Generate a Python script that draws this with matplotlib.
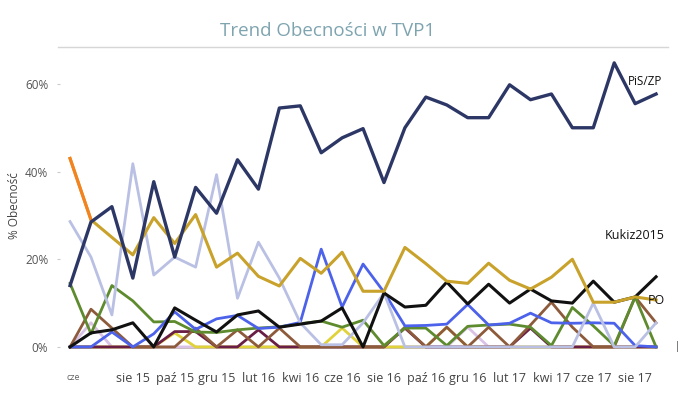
import matplotlib
matplotlib.use("Agg")
import matplotlib.pyplot as plt
from matplotlib.lines import Line2D

plt.rcParams['font.family'] = ['Open Sans', 'DejaVu Sans']

# ---- data (monthly, maj 2015 .. wrz 2017) ----
months = ["maj 15", "cze 15", "lip 15", "sie 15", "wrz 15", "paź 15", "lis 15", "gru 15",
          "sty 16", "lut 16", "mar 16", "kwi 16", "maj 16", "cze 16", "lip 16", "sie 16",
          "wrz 16", "paź 16", "lis 16", "gru 16", "sty 17", "lut 17", "mar 17", "kwi 17",
          "maj 17", "cze 17", "lip 17", "sie 17", "wrz 17"]
tick_idx = [3, 5, 7, 9, 11, 13, 15, 17, 19, 21, 23, 25, 27]
tick_labels = ["sie 15", "paź 15", "gru 15", "lut 16", "kwi 16", "cze 16", "sie 16",
               "paź 16", "gru 16", "lut 17", "kwi 17", "cze 17", "sie 17"]

pis = [14, 28.5, 32, 15.7, 37.7, 20.5, 36.4, 30.5, 42.7, 36, 54.5, 55, 44.3, 47.7, 49.8,
       37.5, 50, 57, 55.2, 52.3, 52.3, 59.8, 56.4, 57.7, 50, 50, 64.8, 55.5, 57.7]
po = [43, 29, 25, 21, 29.5, 23.6, 30.2, 18.2, 21.4, 16.1, 13.9, 20.2, 16.8, 21.6, 12.7,
      12.7, 22.7, 19, 15, 14.5, 19.1, 15.2, 13.2, 15.9, 20, 10.2, 10.2, 11.4, 10.7]
kukiz = [0, 3.2, 3.9, 5.5, 0, 8.9, 6.1, 3.4, 7.3, 8.2, 4.5, 5.2, 5.9, 8.9, 0, 12.3, 9.1,
         9.5, 14.8, 9.8, 14.3, 10, 13.2, 10.5, 10, 15, 10.2, 11.4, 16]
lavender = [28.6, 20.5, 7.3, 41.8, 16.4, 20.5, 18.2, 39.3, 11.1, 23.9, 15.7, 5.5, 0.5, 0.5,
            5.5, 12.3, 0, 0, 0, 0, 0, 0, 0, 0, 0, 10, 0, 0, 5.5]
green = [14.5, 3, 14, 10.5, 5.7, 5.8, 3.4, 3.3, 3.9, 4.3, 4.6, 5.3, 5.9, 4.5, 6.1, 0.3,
         4.3, 4.3, 0.3, 4.7, 5, 5.2, 4.5, 0.3, 9, 4.8, 0.3, 11.4, 0]
blue = [0, 0, 3.4, 0, 3, 8, 4, 6.4, 7.2, 4.2, 4.5, 5.6, 22.3, 9.1, 18.9, 12.5, 4.8, 4.9,
        5.2, 9.7, 5, 5.4, 7.7, 5.5, 5.4, 5.5, 5.4, 0.3, 0]
brown = [0, 8.6, 4.3, 0, 0, 0, 4.3, 0, 3.9, 0, 4.3, 0, 0, 0, 0, 0, 4.5, 0, 4.5, 0, 4.5,
         0, 5, 10.2, 4.5, 0, 0, 11.4, 5.5]
maroon = [0, 0, 0, 0, 0, 3.5, 3.5, 0, 0, 3.9, 0, 0, 0, 0, 0, 0, 4.3, 0, 0, 0, 0, 0, 4.3,
          0, 0, 0, 0, 0, 0]
yellow = [0, 0, 0, 0, 0, 3.2, 0, 0, 0, 0, 0, 0, 0, 4.3, 0, 0, 0, 0, 4.5, 0, 0, 0, 0, 0,
          0, 0, 0, 0, 0]
pink = [0, 5.5, 0, 0, 0, 0, 0, 0, 0, 0, 0, 0, 0, 0, 0, 0, 0, 0, 0, 4.5, 0, 0, 0, 0, 0,
        0, 0, 0, 0]
zero = [0] * len(months)

x = list(range(len(months)))

fig = plt.figure(figsize=(6.79, 3.99), dpi=100)
W, H = 679, 399
ax = fig.add_axes([60 / W, (H - 357) / H, 608 / W, (357 - 55) / H])

lw = 2.0
ax.plot(x, zero, color="#bdb6a6", lw=lw, solid_capstyle="round")
ax.plot(x, pink, color="#d9c2e6", lw=lw)
ax.plot(x, yellow, color="#e0d23a", lw=lw)
ax.plot(x, maroon, color="#6a1e45", lw=lw)
ax.plot(x, brown, color="#8d5b3b", lw=lw)
ax.plot(x, green, color="#5d8b2e", lw=lw)
ax.plot(x, blue, color="#4c62ea", lw=lw)
ax.plot(x, lavender, color="#b9c0e3", lw=lw)
ax.plot(x, kukiz, color="#111111", lw=lw + 0.2)
ax.plot(x, po, color="#c8a22a", lw=lw + 0.2)
ax.plot(x[:2], po[:2], color="#f5821f", lw=lw + 0.2)
ax.plot(x, pis, color="#2c3766", lw=lw + 0.4)

ax.set_xlim(-0.48, 28.57)
ax.set_ylim(-2.3, 66.6)
for s in ax.spines.values():
    s.set_visible(False)

ax.set_yticks([0, 20, 40, 60])
ax.set_yticklabels(["0%", "20%", "40%", "60%"])
ax.tick_params(axis="y", length=2.5, color="#cccccc", labelcolor="#555555",
               labelsize=8.5, pad=6)
ax.set_xticks(tick_idx)
ax.set_xticklabels(tick_labels)
ax.tick_params(axis="x", length=0, labelcolor="#444444", labelsize=9, pad=10.5)

# truncated first label
ax.annotate("cze", xy=(0, 0), xycoords=("data", "axes fraction"), xytext=(3, -21),
            textcoords="offset pixels", ha="center", va="center", fontsize=6.5,
            color="#666666")

ax.set_ylabel("% Obecność", fontsize=8.5, color="#444444", labelpad=3)

fig.text(328 / W, 1 - 31 / H, "Trend Obecności w TVP1", ha="center", va="center",
         fontsize=13.5, color="#7ea4b0")
fig.add_artist(Line2D([58 / W, 668 / W], [1 - 47 / H, 1 - 47 / H],
                      color="#d6d6d6", lw=1, transform=fig.transFigure))

# end labels
last = len(months) - 1
ax.annotate("PiS/ZP", xy=(last, pis[-1]), xytext=(-11, 13), textcoords="offset pixels",
            ha="center", va="center", fontsize=8.5, color="#111111")
ax.annotate("Kukiz2015", xy=(last, kukiz[-1]), xytext=(-21, 41), textcoords="offset pixels",
            ha="center", va="center", fontsize=9, color="#111111")
ax.annotate("PO", xy=(last, po[-1]), xytext=(-8, 0), textcoords="offset pixels",
            ha="left", va="center", fontsize=9, color="#111111")
fig.text(677 / W, 1 - 347 / H, "|", ha="center", va="center", fontsize=7, color="#333333")

fig.savefig("out.png", dpi=100)
